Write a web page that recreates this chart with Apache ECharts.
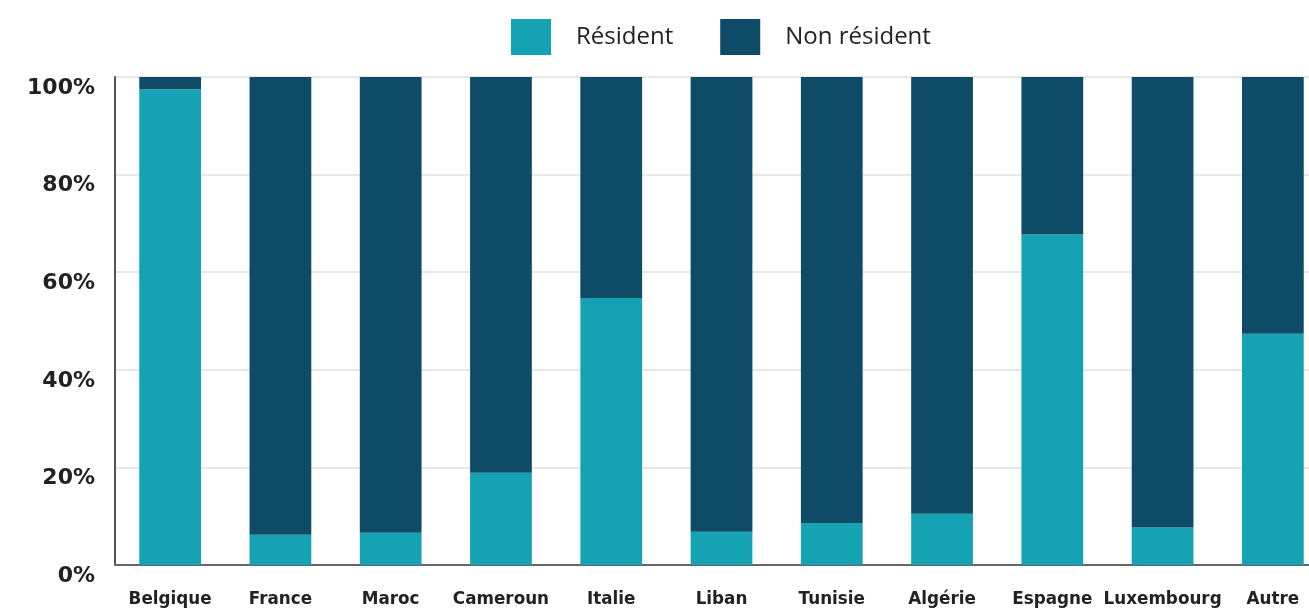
<!DOCTYPE html>
<html><head><meta charset="utf-8">
<script src="https://cdn.jsdelivr.net/npm/echarts@6/dist/echarts.min.js"></script>
<style>html,body{margin:0;padding:0;background:#fff}#c{width:1309px;height:608px}</style>
</head><body><div id="c"></div>
<script>
const categories = ['Belgique','France','Maroc','Cameroun','Italie','Liban','Tunisie','Algérie','Espagne','Luxembourg','Autre'];
const resident = [97.5, 6.2, 6.6, 18.9, 54.7, 6.8, 8.6, 10.5, 67.7, 7.7, 47.4];
const nonResident = resident.map(v => +(100 - v).toFixed(1));
const seriesNames = ['Résident', 'Non résident'];
const chart = echarts.init(document.getElementById('c'));
chart.setOption({
  animation: false,
  legend: {
    top: 14, left: 506, itemWidth: 40, itemHeight: 36, itemGap: 47, icon: 'rect',
    textStyle: {fontFamily: 'Open Sans', fontSize: 24, color: '#222', padding: [0,0,0,20]},
    data: seriesNames
  },
  grid: {left: 115, width: 1213, top: 77, bottom: 43, outerBoundsMode: 'none', containLabel: false},
  xAxis: {
    type: 'category', data: categories,
    axisLine: {lineStyle: {color: '#666', width: 2}},
    axisTick: {show: false},
    axisLabel: {fontFamily: 'DejaVu Sans', fontWeight: 'bold', fontSize: 16.8, color: '#222', margin: 26, interval: 0}
  },
  yAxis: {
    type: 'value', min: 0, max: 100, interval: 20,
    axisLine: {show: true, lineStyle: {color: '#555', width: 2}},
    splitLine: {lineStyle: {color: '#e8e8e8', width: 2}},
    axisLabel: {formatter: '{value}%', fontFamily: 'DejaVu Sans', fontWeight: 'bold', fontSize: 22, color: '#222', margin: 20, verticalAlign: 'top'}
  },
  series: [
    {name: seriesNames[0], type: 'bar', stack: 's', data: resident, barWidth: '56%', itemStyle: {color: '#15a3b3'}},
    {name: seriesNames[1], type: 'bar', stack: 's', data: nonResident, barWidth: '56%', itemStyle: {color: '#0d4b67'}}
  ]
});
</script></body></html>
